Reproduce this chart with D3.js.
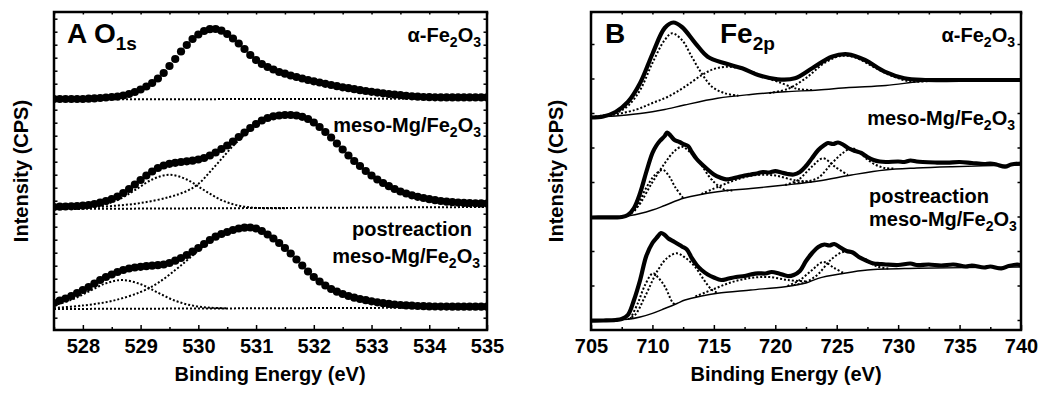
<!DOCTYPE html>
<html>
<head>
<meta charset="utf-8">
<script src="https://cdn.jsdelivr.net/npm/d3@7"></script>
<style>
body { margin: 0; background: #fff; }
text { font-family: "Liberation Sans", Arial, sans-serif; font-weight: bold; fill: #000; }
.tick text { font-size: 20px; }
.tick line { stroke: #000; stroke-width: 1.5; }
</style>
</head>
<body>
<script>
// ---- O 1s spectra, sampled every 0.1 eV from 527.5 eV (intensity, a.u.)
var o1sStart = 527.5, o1sStep = 0.1;
var o1sAlpha = [231, 231, 231, 231, 231, 231,
  231.3, 231.6, 232, 232.5, 233, 233.4, 234.5, 236, 238,
  240.5, 243.5, 247, 251.5, 257, 264, 271, 278.5, 285, 291,
  295.5, 299, 300.8, 301, 299.3, 296, 291.5, 286.5, 281, 275,
  270, 266, 263, 260.5, 258, 256.3, 254.5, 253, 251.5, 250,
  248.7, 247.5, 246.2, 245, 243.8, 242.7, 241.8, 240.8, 239.8, 239,
  238.2, 237.4, 236.7, 236, 235.3, 234.8, 234.2, 233.7, 233.3, 233,
  232.8, 232.7, 232.6, 232.6, 232.6, 232.6, 232.6, 232.6, 232.6, 232.6,
  232.6];
var o1sMeso = [123, 123.3, 123.5, 123.7, 124, 124.3,
  125, 126, 127.3, 129, 131, 133.5, 137, 141, 145.5,
  150, 154.5, 158.5, 162, 164.5, 166.2, 167.2, 168, 168.7, 169.3,
  170.5, 172, 174.5, 177.5, 181, 184.5, 188.5, 193, 197.5, 202,
  206, 209.5, 212, 213.7, 214.5, 215, 215, 214.5, 213.2, 211,
  207.5, 203, 198, 192.5, 186.5, 180.5, 174.5, 169, 164, 159,
  154.5, 150.5, 147, 143.8, 141, 138.5, 136.5, 134.7, 133.2, 132,
  130.8, 129.8, 129, 128.3, 127.8, 127.4, 127.1, 126.9, 126.7, 126.6,
  126.5];
var o1sPost = [27, 29.5, 31.5, 34, 37, 40,
  43, 46.5, 50, 53, 55.5, 58, 60, 61.5, 62.5,
  63.2, 63.8, 64.3, 64.8, 65.5, 67, 69.3, 72, 75, 78.3,
  82, 86, 90, 93.3, 96, 98, 100, 101.5, 102.3, 102.5,
  101.5, 99, 95.5, 91.5, 87, 82, 76.5, 70.5, 64.5, 58.5,
  53, 48.5, 44.5, 41, 38.3, 36, 34, 32.3, 31, 29.8,
  28.7, 27.7, 26.8, 26.1, 25.5, 25, 24.6, 24.3, 24, 23.8,
  23.6, 23.5, 23.4, 23.4, 23.3, 23.3, 23.3, 23.3, 23.3, 23.3,
  23.3];

var o1sBaseAlpha = [[527.5, 230.5], [535, 231.5]];
var o1sBaseMeso = [[527.5, 121], [535, 123]];
var o1sBasePost = [[527.5, 21], [535, 22.5]];

var o1sPeaksMeso = [
  [[527.5, 121.4], [528.0, 122.1], [528.3, 124.3], [528.6, 129.9], [528.9, 139.8], [529.2, 150.5],
   [529.5, 155.3], [529.8, 150.5], [530.1, 139.8], [530.4, 129.9], [530.7, 124.3], [531.0, 122.1], [531.5, 121.8]],
  [[527.5, 121.5], [528.0, 122.5], [528.5, 124], [529.0, 127], [529.5, 133], [529.8, 139], [530.0, 146],
   [530.2, 158], [530.4, 171], [530.6, 184], [530.8, 195], [531.0, 205], [531.2, 211.5], [531.4, 214.3],
   [531.6, 215], [531.8, 213], [532.0, 207.5], [532.4, 186.5], [532.8, 164], [533.2, 147], [533.6, 136.5],
   [534.0, 130.8], [534.5, 127.4], [535.0, 126.5]]
];
var o1sPeaksPost = [
  [[527.5, 24.8], [527.8, 30.1], [528.1, 38.5], [528.4, 46.7], [528.68, 50], [529.0, 45.8], [529.3, 37.3],
   [529.6, 29.2], [529.9, 24.4], [530.2, 22.3], [530.5, 21.8]],
  [[527.5, 22], [528.0, 24.5], [528.5, 29], [529.0, 38], [529.3, 47], [529.6, 60], [529.8, 69.5], [530.0, 79.5],
   [530.2, 89], [530.4, 95.5], [530.6, 99.8], [530.9, 102.5], [531.2, 95.5], [531.6, 76.5], [532.0, 53],
   [532.4, 38.3], [532.8, 31], [533.2, 26.8], [533.6, 24.6], [534.0, 23.6], [535.0, 23.3]]
];

// ---- Fe 2p spectra, [binding energy, intensity]
var feAlpha = [[705, 212.5], [706, 213.5], [707, 218], [708, 228], [709, 247], [710, 276], [711, 302],
  [711.7, 307.5], [712.4, 303], [713.5, 286.7], [714.5, 273.3], [715.9, 266.7], [717.3, 261.7], [718.6, 255],
  [720.2, 250.7], [721.6, 251.7], [723, 261.7], [724.6, 273.3], [725.9, 275.7], [727.3, 270], [728.9, 258.3],
  [730.5, 251.7], [732.2, 250], [735, 250], [740, 250]];
var feMeso = [[705, 112.5], [706, 112.7], [707, 112.7], [707.5, 113], [708, 115], [708.5, 122], [709, 137],
  [709.5, 158], [710, 177], [710.3, 184], [710.6, 189], [711, 194], [711.2, 197.5], [711.5, 194], [711.8, 190],
  [712.2, 188], [712.6, 185.5], [712.9, 184], [713.2, 178], [713.6, 171], [714, 166], [714.5, 160.5],
  [715, 155.5], [715.5, 152.5], [716, 150.7], [716.5, 151.5], [717, 153], [717.5, 154.5], [718, 155.5],
  [718.5, 156.5], [719, 158], [719.5, 157.5], [720, 158.8], [720.5, 157.5], [721, 156], [721.5, 155.5],
  [722, 158], [722.5, 164], [723, 172], [723.5, 180], [724, 185], [724.3, 187], [724.7, 186], [725.1, 187.5],
  [725.5, 185.5], [726, 181.5], [726.5, 179], [727, 177], [727.5, 173], [728, 170], [728.5, 168.5], [729, 168],
  [730, 168.5], [730.5, 168], [731, 169.5], [731.5, 168.5], [732, 168], [733, 167.5], [734, 167.3], [735, 168],
  [736, 167], [737, 166], [737.5, 166.5], [738, 165.5], [738.7, 163.3], [739.2, 165.5], [740, 166.5]];
var fePost = [[705, 9.3], [706, 9.5], [707, 10], [707.5, 11], [708, 15], [708.5, 30], [709, 50], [709.5, 74],
  [710, 87], [710.4, 93], [710.7, 97], [711, 95], [711.3, 91.5], [711.8, 88], [712.4, 83.5], [712.8, 80.5],
  [713.2, 72], [713.6, 65], [714, 60], [714.5, 55.5], [715, 52.5], [715.6, 50], [716.2, 51.5], [716.8, 53],
  [717.5, 54], [718, 55.5], [718.6, 56.7], [719.2, 56.5], [719.7, 58], [720.3, 56.5], [721, 54], [721.5, 55],
  [722, 59], [722.5, 69], [723, 77], [723.5, 83], [724, 85.5], [724.4, 84.5], [724.8, 86], [725.3, 82.5],
  [725.8, 79], [726.3, 77.5], [726.8, 73], [727.3, 70], [728, 66.5], [728.5, 66], [729, 65.5], [730, 65],
  [731, 66.5], [731.5, 65], [732.5, 65.5], [733.5, 64.5], [734.5, 65.5], [735.5, 63.5], [736, 64.5],
  [737, 62.5], [737.5, 63.5], [738.4, 61.5], [739, 64], [739.7, 65.5], [740, 64.5]];

var feBaseAlpha = [[705, 213], [707, 214], [709, 216.5], [710, 218.3], [711, 220.5], [712.6, 225], [715.3, 231.7],
  [718, 235.5], [720.8, 238.3], [723.5, 240], [726, 242.5], [729, 244.5], [731.6, 248.3], [733, 249.5], [740, 250]];
var feBaseMeso = [[705, 113], [707, 113], [708.2, 114.5], [709, 116.5], [710, 120], [711, 124.5], [712.6, 132],
  [715.3, 138.3], [718, 141.5], [720.8, 145], [723.5, 149], [726.2, 155], [728.9, 160], [731.5, 162],
  [734.4, 163.3], [740, 165]];
var feBasePost = [[705, 9.5], [707, 10], [708, 10.7], [709, 13], [710, 16.7], [711, 21.5], [712, 26.5],
  [712.65, 30], [714, 34], [715.3, 36.7], [718, 40], [720.8, 43.3], [722.5, 47], [723.5, 51.7], [725.5, 56.5],
  [727.5, 60], [731.6, 61.7], [740, 63]];

var fePeaksAlpha = [
  [[705, 213], [707, 217], [708, 224], [709, 240], [710, 267], [711, 290], [711.6, 296.7], [712.4, 290],
   [713.2, 273.3], [714, 256.7], [714.85, 243.3], [715.9, 236.7], [717, 234.3]],
  [[705.5, 213.5], [706.14, 214], [708.58, 220], [710, 227], [711.27, 233.3], [712.65, 243.3], [714.03, 255],
   [715, 261], [716.1, 263.3], [717.2, 261.5], [718.1, 258.3], [719, 253.5], [720.2, 248.3], [721.84, 241],
   [722.98, 240]],
  [[719.5, 237], [721, 241], [722.5, 252], [724, 267], [725.3, 274], [726.5, 272.5], [728, 263], [729.5, 254],
   [731, 248.5], [732.5, 249]]
];
var fePeaksMeso = [
  [[708, 114.5], [708.6, 120], [709.4, 140], [710.2, 155], [710.86, 160], [711.4, 153], [711.83, 143.3], [712.5, 132]],
  [[708, 115], [708.8, 123.3], [709.96, 147], [711.02, 167], [711.8, 179], [712.4, 183.3], [713, 178.5],
   [713.7, 170], [714.85, 150], [715.9, 140], [716.5, 139.5]],
  [[714, 136], [715.5, 144], [717, 151], [718.5, 155], [720, 154.5], [721.5, 150], [723, 148]],
  [[720.8, 145], [721.84, 150], [722.98, 163.3], [723.88, 171.7], [724.85, 163.3], [725.91, 155]],
  [[721.5, 147], [722.41, 148.3], [723.47, 152], [724.6, 166.7], [725.5, 177], [726.24, 181.7], [727, 176],
   [727.54, 170], [728.2, 165], [728.92, 162], [729.7, 161.5]]
];
var fePeaksPost = [
  [[708.2, 11], [708.82, 27], [709.4, 45], [710.04, 56.7], [710.5, 52], [711.02, 43.3], [711.67, 27], [711.9, 25.5]],
  [[708, 11], [708.58, 15], [709.39, 33.3], [710.45, 60], [711.2, 72], [711.99, 76.7], [712.7, 72], [713.46, 63.3],
   [714.2, 50], [714.85, 40], [715.4, 37]],
  [[713.5, 33.5], [715, 41], [716.5, 48], [718, 52], [719.5, 53], [721, 50], [722.5, 48.5]],
  [[721, 44], [722, 50], [723, 60], [723.9, 68], [724.8, 62], [725.6, 56.8]],
  [[721.5, 45], [722.5, 48], [723.5, 56], [724.5, 70], [725.5, 78], [726.3, 77], [727.3, 70], [728.3, 63.5], [729.3, 61.3]]
];

var o1sTicks = [528, 529, 530, 531, 532, 533, 534, 535];
var fe2pTicks = [705, 710, 715, 720, 725, 730, 735, 740];

var svg = d3.select('body').append('svg').attr('width', 1042).attr('height', 393);

function label(g, x, y, anchor, parts, size, subSize, shift) {
  var t = g.append('text').attr('x', x).attr('y', y).attr('text-anchor', anchor)
      .style('font-size', size + 'px');
  var down = false;
  parts.forEach(function(p, i) {
    var sub = i % 2 === 1;
    var ts = t.append('tspan').text(p);
    if (sub) { ts.style('font-size', subSize + 'px').attr('dy', shift); down = true; }
    else if (down) { ts.attr('dy', -shift); down = false; }
  });
  return t;
}

function makePanel(opt) {
  var top = 12, bottom = 330;
  var x = d3.scaleLinear().domain(opt.xDomain).range([opt.left, opt.right]);
  var y = d3.scaleLinear().domain([0, 318]).range([bottom, top]);
  var g = svg.append('g');

  var clipId = 'clip' + opt.id;
  g.append('clipPath').attr('id', clipId).append('rect')
      .attr('x', opt.left).attr('y', top).attr('width', opt.right - opt.left).attr('height', bottom - top);

  function noDomain(sel) { sel.select('.domain').remove(); }

  g.append('g').attr('transform', 'translate(0,' + bottom + ')')
      .call(d3.axisBottom(x).tickValues(opt.major).tickSize(-5).tickPadding(9).tickFormat(d3.format('d')))
      .call(noDomain);
  g.append('g').attr('transform', 'translate(0,' + bottom + ')')
      .call(d3.axisBottom(x).tickValues(opt.minor).tickSize(-3).tickFormat(''))
      .call(noDomain);
  g.append('g').attr('transform', 'translate(0,' + top + ')')
      .call(d3.axisTop(x).tickValues(opt.major.concat(opt.minor)).tickSize(-2.5).tickFormat(''))
      .call(noDomain);
  g.append('g').attr('transform', 'translate(' + opt.left + ',0)')
      .call(d3.axisLeft(y).tickValues(opt.yTicks).tickSize(-3.5).tickFormat(''))
      .call(noDomain);
  g.append('g').attr('transform', 'translate(' + opt.right + ',0)')
      .call(d3.axisRight(y).tickValues(opt.yTicks).tickSize(-3.5).tickFormat(''))
      .call(noDomain);

  g.append('rect').attr('x', opt.left).attr('y', top)
      .attr('width', opt.right - opt.left).attr('height', bottom - top)
      .attr('fill', 'none').attr('stroke', '#000').attr('stroke-width', 2.5);

  g.append('text').attr('x', opt.titleX).attr('y', 381).attr('text-anchor', 'middle')
      .style('font-size', '20px').text('Binding Energy (eV)');
  g.append('text').attr('transform', 'translate(' + opt.yTitleX + ',171) rotate(-90)')
      .attr('text-anchor', 'middle').style('font-size', '20px').text('Intensity (CPS)');

  var plot = g.append('g').attr('clip-path', 'url(#' + clipId + ')');
  return { g: g, plot: plot, x: x, y: y };
}

function dotted(plot, line, pts) {
  plot.append('path').datum(pts).attr('d', line).attr('fill', 'none')
      .attr('stroke', '#000').attr('stroke-width', 2).attr('stroke-dasharray', '2,2');
}

// ---------- panel A: O 1s
var A = makePanel({
  id: 'A', left: 54, right: 487, xDomain: [527.5, 535],
  major: o1sTicks, minor: [527.5, 528.5, 529.5, 530.5, 531.5, 532.5, 533.5, 534.5],
  yTicks: d3.range(12.3, 318, 13), titleX: 270, yTitleX: 28
});
var lineA = d3.line().x(function(d) { return A.x(d[0]); }).y(function(d) { return A.y(d[1]); })
    .curve(d3.curveCatmullRom.alpha(0.5));

[o1sBaseAlpha, o1sBaseMeso, o1sBasePost].forEach(function(b) { dotted(A.plot, lineA, b); });
o1sPeaksMeso.concat(o1sPeaksPost).forEach(function(p) { dotted(A.plot, lineA, p); });

[o1sAlpha, o1sMeso, o1sPost].forEach(function(series) {
  A.plot.append('g').selectAll('circle').data(series).join('circle')
      .attr('cx', function(d, i) { return A.x(o1sStart + i * o1sStep); })
      .attr('cy', function(d) { return A.y(d); })
      .attr('r', 4.1).attr('fill', '#000');
});

label(A.g, 67, 43, 'start', ['A O', '1s'], 28, 19, 7);
label(A.g, 481, 42, 'end', ['\u03b1-Fe', '2', 'O', '3'], 20, 14, 5);
label(A.g, 481, 132, 'end', ['meso-Mg/Fe', '2', 'O', '3'], 20, 14, 5);
label(A.g, 472, 236, 'end', ['postreaction'], 20, 14, 5);
label(A.g, 480, 263, 'end', ['meso-Mg/Fe', '2', 'O', '3'], 20, 14, 5);

// ---------- panel B: Fe 2p
var B = makePanel({
  id: 'B', left: 591, right: 1021, xDomain: [705, 740],
  major: fe2pTicks, minor: [707.5, 712.5, 717.5, 722.5, 727.5, 732.5, 737.5],
  yTicks: d3.range(10, 318, 34.5), titleX: 786, yTitleX: 563
});
var lineB = d3.line().x(function(d) { return B.x(d[0]); }).y(function(d) { return B.y(d[1]); })
    .curve(d3.curveCatmullRom.alpha(0.5));

fePeaksAlpha.concat(fePeaksMeso, fePeaksPost).forEach(function(p) { dotted(B.plot, lineB, p); });
[feBaseAlpha, feBaseMeso, feBasePost].forEach(function(b) {
  B.plot.append('path').datum(b).attr('d', lineB).attr('fill', 'none')
      .attr('stroke', '#000').attr('stroke-width', 1.4);
});
[feAlpha, feMeso, fePost].forEach(function(s) {
  B.plot.append('path').datum(s).attr('d', lineB).attr('fill', 'none')
      .attr('stroke', '#000').attr('stroke-width', 4.2).attr('stroke-linejoin', 'round');
});

label(B.g, 605, 43, 'start', ['B'], 28, 19, 7);
label(B.g, 720, 43, 'start', ['Fe', '2p'], 28, 19, 7);
label(B.g, 1015, 42, 'end', ['\u03b1-Fe', '2', 'O', '3'], 20, 14, 5);
label(B.g, 1015, 125, 'end', ['meso-Mg/Fe', '2', 'O', '3'], 20, 14, 5);
label(B.g, 869, 203, 'start', ['postreaction'], 20, 14, 5);
label(B.g, 869, 226, 'start', ['meso-Mg/Fe', '2', 'O', '3'], 20, 14, 5);
</script>
</body>
</html>
